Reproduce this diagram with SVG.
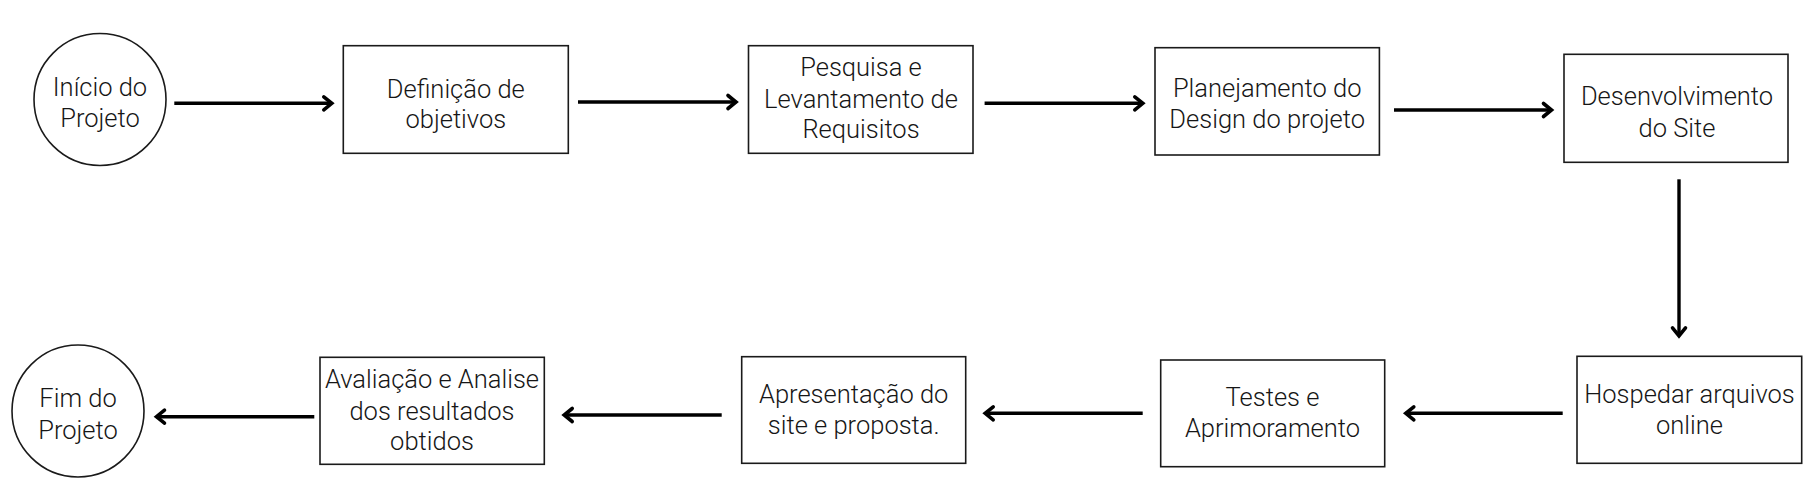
<svg xmlns="http://www.w3.org/2000/svg" width="1817" height="500" viewBox="0 0 1817 500">
  <style>
    .node rect, .node circle { fill: #ffffff; stroke: #1a1a1a; stroke-width: 1.6; }
    .node text { font-family: Roboto, "Open Sans", "Liberation Sans", sans-serif; font-size: 25.5px; font-weight: 300; fill: #161616; text-anchor: middle; }
    .conn line { stroke: #000000; stroke-width: 3.4; fill: none; marker-end: url(#chev); }
  </style>
  <defs>
    <marker id="chev" markerUnits="userSpaceOnUse" viewBox="-14 -10 20 20" markerWidth="20" markerHeight="20" refX="0" refY="0" orient="auto" overflow="visible">
      <path d="M-8,-6.5 L0,0 L-8,6.5" fill="none" stroke="#000000" stroke-width="3.6" stroke-linecap="round" stroke-linejoin="miter"/>
    </marker>
  </defs>
  <rect x="0" y="0" width="1817" height="500" fill="#ffffff"/>

  <g id="connectors" class="conn">
    <line x1="174.3" y1="103.3" x2="331.8" y2="103.3"/>
    <line x1="578" y1="102" x2="736" y2="102"/>
    <line x1="984.6" y1="103.3" x2="1142.8" y2="103.3"/>
    <line x1="1394" y1="110" x2="1551.5" y2="110"/>
    <line x1="1679" y1="179.3" x2="1679" y2="335.8"/>
    <line x1="1562.7" y1="413.3" x2="1405.8" y2="413.3"/>
    <line x1="1142.7" y1="413.3" x2="985.2" y2="413.3"/>
    <line x1="721.7" y1="415" x2="564.2" y2="415"/>
    <line x1="314.3" y1="416.7" x2="156.5" y2="416.7"/>
  </g>

  <g id="inicio" class="node">
    <circle cx="100" cy="99.5" r="66"/>
    <text x="100" y="96">Início do</text>
    <text x="100" y="127.3">Projeto</text>
  </g>
  <g id="definicao" class="node">
    <rect x="343.3" y="45.7" width="225" height="107.6"/>
    <text x="455.8" y="98.3">Definição de</text>
    <text x="455.8" y="128.3">objetivos</text>
  </g>
  <g id="pesquisa" class="node">
    <rect x="748.5" y="45.7" width="224.5" height="107.6"/>
    <text x="861" y="76">Pesquisa e</text>
    <text x="861" y="108">Levantamento de</text>
    <text x="861" y="138">Requisitos</text>
  </g>
  <g id="planejamento" class="node">
    <rect x="1155" y="47.7" width="224.4" height="107.3"/>
    <text x="1267.2" y="97.3">Planejamento do</text>
    <text x="1267.2" y="128.3">Design do projeto</text>
  </g>
  <g id="desenvolvimento" class="node">
    <rect x="1564" y="54.3" width="224" height="108"/>
    <text x="1677" y="105">Desenvolvimento</text>
    <text x="1677" y="136.7">do Site</text>
  </g>
  <g id="hospedar" class="node">
    <rect x="1577" y="356.3" width="224.7" height="107"/>
    <text x="1689.5" y="402.7">Hospedar arquivos</text>
    <text x="1689.5" y="434">online</text>
  </g>
  <g id="testes" class="node">
    <rect x="1160.7" y="360" width="224" height="106.7"/>
    <text x="1272.5" y="406">Testes e</text>
    <text x="1272.5" y="437.3">Aprimoramento</text>
  </g>
  <g id="apresentacao" class="node">
    <rect x="741.7" y="356.7" width="224" height="106.6"/>
    <text x="853.7" y="403.3">Apresentação do</text>
    <text x="853.7" y="434">site e proposta.</text>
  </g>
  <g id="avaliacao" class="node">
    <rect x="320" y="357.3" width="224.3" height="107"/>
    <text x="432" y="388.3">Avaliação e Analise</text>
    <text x="432" y="420">dos resultados</text>
    <text x="432" y="450">obtidos</text>
  </g>
  <g id="fim" class="node">
    <circle cx="78" cy="411" r="66"/>
    <text x="78" y="407.3">Fim do</text>
    <text x="78" y="439">Projeto</text>
  </g>
</svg>
